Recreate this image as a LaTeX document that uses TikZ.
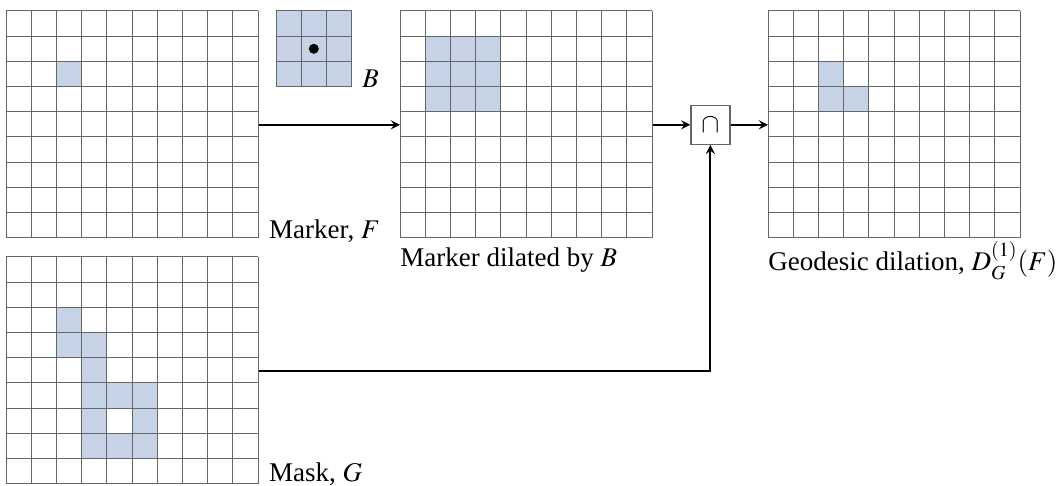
\documentclass[tikz,border=0pt]{standalone}
\usepackage{mathptmx}
\usepackage{fontspec}
\setmainfont{Liberation Serif}
\usepackage{tikz}
\usetikzlibrary{calc}
\definecolor{cellblue}{HTML}{C6D3E6}

\begin{document}
\begin{tikzpicture}[x=0.5pt, y=-0.5pt, >=stealth,
  every node/.style={font=\fontsize{13.5}{15}\selectfont},
  gridline/.style={draw=black!60, line width=0.5pt},
  frame/.style={anchor=north west, minimum width=126pt, minimum height=113.4pt, inner sep=0pt},
  capbox/.style={draw=black!60, line width=0.6pt, minimum size=19.5pt, inner sep=0pt},
  flow/.style={->, line width=1pt}]
\useasboundingbox (0,0) rectangle (1061,486);

% frames of the four images
\node[frame] (marker) at (6,11) {};
\node[frame] (mask) at (6,257) {};
\node[frame] (dilated) at (400,11) {};
\node[frame] (geodesic) at (768,11) {};

% shaded pixels
\foreach \c/\r in {2/2}
  \fill[cellblue] (6+\c*25.2,11+\r*25.2) rectangle ++(25.2,25.2);
\foreach \c/\r in {2/2,2/3,3/3,3/4,3/5,4/5,5/5,3/6,5/6,3/7,4/7,5/7}
  \fill[cellblue] (6+\c*25.2,257+\r*25.2) rectangle ++(25.2,25.2);
\foreach \c in {1,2,3}
  \foreach \r in {1,2,3}
    \fill[cellblue] (400+\c*25.2,11+\r*25.2) rectangle ++(25.2,25.2);
\foreach \c/\r in {2/2,2/3,3/3}
  \fill[cellblue] (768+\c*25.2,11+\r*25.2) rectangle ++(25.2,25.2);

% grid lines
\foreach \gx/\gy in {6/11,6/257,400/11,768/11}{
  \foreach \i in {0,...,10}
    \draw[gridline] (\gx+\i*25.2,\gy) -- ++(0,226.8);
  \foreach \j in {0,...,9}
    \draw[gridline] (\gx,\gy+\j*25.2) -- ++(252,0);
}

% structuring element B
\fill[cellblue] (276,11) rectangle ++(75.6,75.6);
\foreach \i in {0,...,3}{
  \draw[gridline] (276+\i*25.2,11) -- ++(0,75.6);
  \draw[gridline] (276,11+\i*25.2) -- ++(75.6,0);
}
\fill (313.8,48.8) circle (5);
\node[anchor=base west, inner sep=0pt] (blbl) at (362,88) {$B$};

% intersection
\node[capbox] (cap) at ($(dilated.east)!0.5!(geodesic.west)$) {$\cap$};

% labels
\node[anchor=base west, inner sep=0pt] (markerlbl) at ([xshift=5pt]marker.south east) {Marker, $F$};
\node[anchor=base west, inner sep=0pt] (masklbl) at ([xshift=5pt,yshift=1.5pt]mask.south east) {Mask, $G$};
\node[anchor=base west, inner sep=0pt] (dilatedlbl) at ([yshift=-14pt]dilated.south west) {Marker dilated by $B$};
\node[anchor=base west, inner sep=0pt] (geodesiclbl) at ([yshift=-16pt]geodesic.south west) {Geodesic dilation, $D_G^{(1)}(F)$};

% connectors
\draw[flow] (marker.east) -- (dilated.west);
\draw[flow] (dilated.east) -- (cap.west);
\draw[flow] (cap.east) -- (geodesic.west);
\draw[flow] (mask.east) -| (cap.south);
\end{tikzpicture}
\end{document}
